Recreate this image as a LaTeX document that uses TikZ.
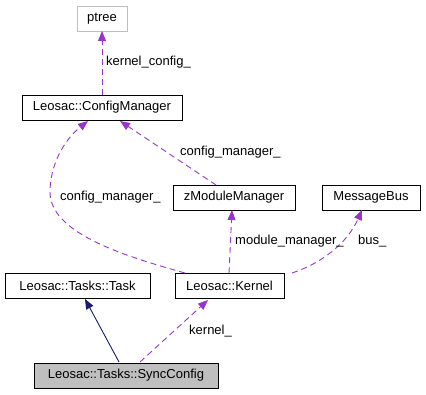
\documentclass[tikz,border=0pt]{standalone}
\usepackage{fontspec}
\setmainfont{Liberation Sans}
\usetikzlibrary{arrows.meta}
\definecolor{edgepurple}{HTML}{9A32CD}
\definecolor{edgenavy}{HTML}{191970}
\definecolor{boxgray}{HTML}{BFBFBF}
\tikzset{
  cls/.style={draw=black, line width=0.9pt, fill=white, inner sep=0pt,
    minimum height=25pt, font=\fontsize{13}{15}\selectfont, text=black},
  usage/.style={draw=edgepurple, line width=0.9pt, dash pattern=on 6pt off 4pt,
    -{Triangle[length=10pt,width=8pt]}},
  inherit/.style={draw=edgenavy, line width=0.9pt,
    -{Triangle[length=10pt,width=8pt]}},
  elabel/.style={font=\fontsize{13}{15}\selectfont, text=black, inner sep=0pt, anchor=west},
}
\begin{document}
\begin{tikzpicture}[x=1pt,y=-1pt]
\useasboundingbox (0,0) rectangle (426,395);
% classes
\node[cls, draw=boxgray, minimum width=50pt] (ptree) at (102,18.5) {ptree};
\node[cls, minimum width=160pt] (cfg) at (102,107.5) {Leosac::ConfigManager};
\node[cls, minimum width=122pt] (zmm) at (234,197.5) {zModuleManager};
\node[cls, minimum width=98pt] (bus) at (371,197.5) {MessageBus};
\node[cls, minimum width=145pt] (task) at (77.5,286) {Leosac::Tasks::Task};
\node[cls, minimum width=109pt] (kern) at (229.5,286) {Leosac::Kernel};
\node[cls, fill=boxgray, minimum width=184pt] (sync) at (126,375.5) {Leosac::Tasks::SyncConfig};
% connector end points on the boxes
\coordinate (cfgA) at (102,95);
\coordinate (ptreeB) at (102,31);
\coordinate (zmmTop) at (216,185);
\coordinate (cfgR) at (120,121);
\coordinate (cfgL) at (88,121);
\coordinate (kernL) at (185,273);
\coordinate (kernT) at (229,273);
\coordinate (zmmB) at (232,210);
\coordinate (kernR) at (292,273);
\coordinate (busB) at (362,210);
\coordinate (syncL) at (119,362);
\coordinate (taskB) at (85,299);
\coordinate (syncR) at (140,362);
\coordinate (kernB) at (208,300);
% connectors
\draw[usage] (cfgA) -- (ptreeB);
\draw[usage] (zmmTop) -- (cfgR);
\draw[usage] (kernL) .. controls (120,255) and (50,232) .. (50,192)
  .. controls (50,165) and (64,140) .. (cfgL);
\draw[usage] (kernT) -- (zmmB);
\draw[usage] (kernR) .. controls (320,264) and (347,244) .. (busB);
\draw[inherit] (syncL) -- (taskB);
\draw[usage] (syncR) -- (kernB);
% labels
\node[elabel] (l1) at (106,62) {kernel\_config\_};
\node[elabel] (l2) at (180,152) {config\_manager\_};
\node[elabel] (l3) at (60,197) {config\_manager\_};
\node[elabel] (l4) at (235,241) {module\_manager\_};
\node[elabel] (l5) at (358,241) {bus\_};
\node[elabel] (l6) at (189,331) {kernel\_};
\end{tikzpicture}
\end{document}
